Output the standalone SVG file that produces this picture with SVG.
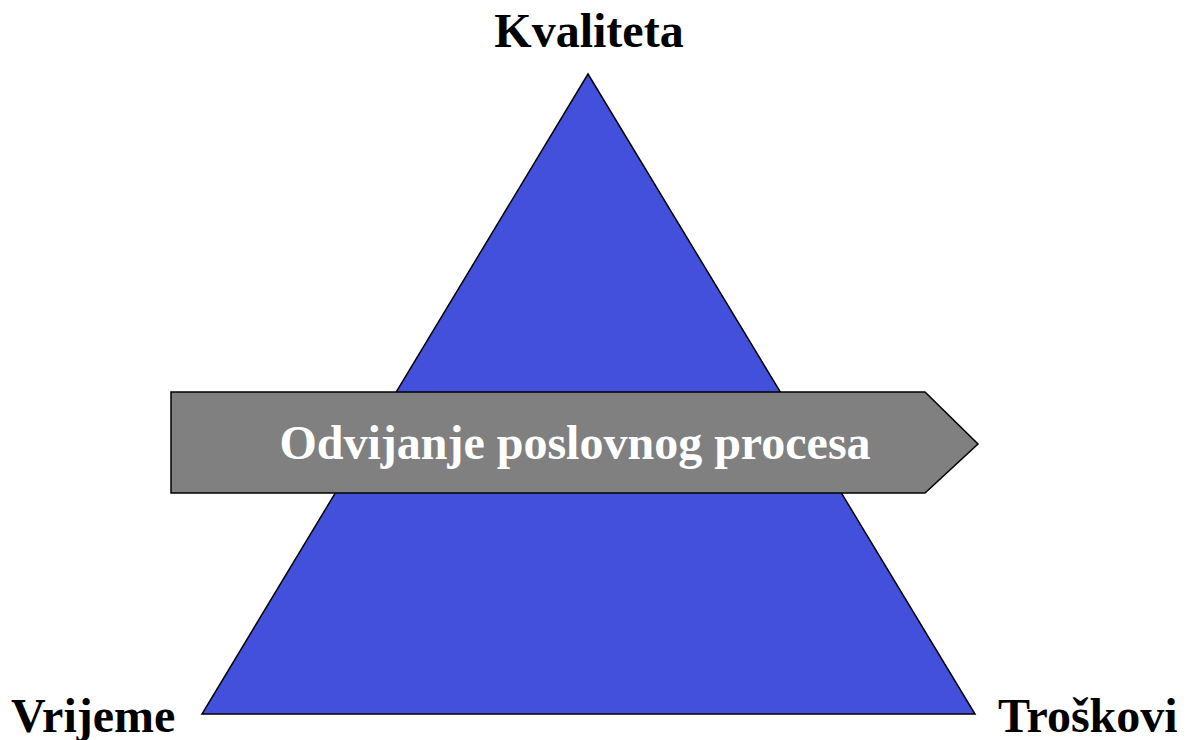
<svg xmlns="http://www.w3.org/2000/svg" width="1192" height="740" viewBox="0 0 1192 740">
<style>
.lbl{font-family:"Liberation Serif","Times New Roman",serif;font-weight:bold;font-size:48px;fill:#000}
.inner{font-family:"Liberation Serif","Times New Roman",serif;font-weight:bold;font-size:48px;fill:#fff}
</style>
<rect width="1192" height="740" fill="#fff"/>
<g id="triangle">
<polygon points="588,74 975,714 202,714" fill="#4350DC" stroke="#000" stroke-width="1.5"/>
</g>
<g id="process-arrow">
<polygon points="171,392 925,392 978,444 925,493 171,493" fill="#808080" stroke="#000" stroke-width="1.5"/>
<text class="inner" x="575" y="459" text-anchor="middle">Odvijanje poslovnog procesa</text>
</g>
<g id="kvaliteta"><text class="lbl" x="589" y="47" text-anchor="middle">Kvaliteta</text></g>
<g id="vrijeme"><text class="lbl" x="11" y="732">Vrijeme</text></g>
<g id="troskovi"><text class="lbl" x="998" y="732">Troškovi</text></g>
<g id="connectors"></g>
</svg>
